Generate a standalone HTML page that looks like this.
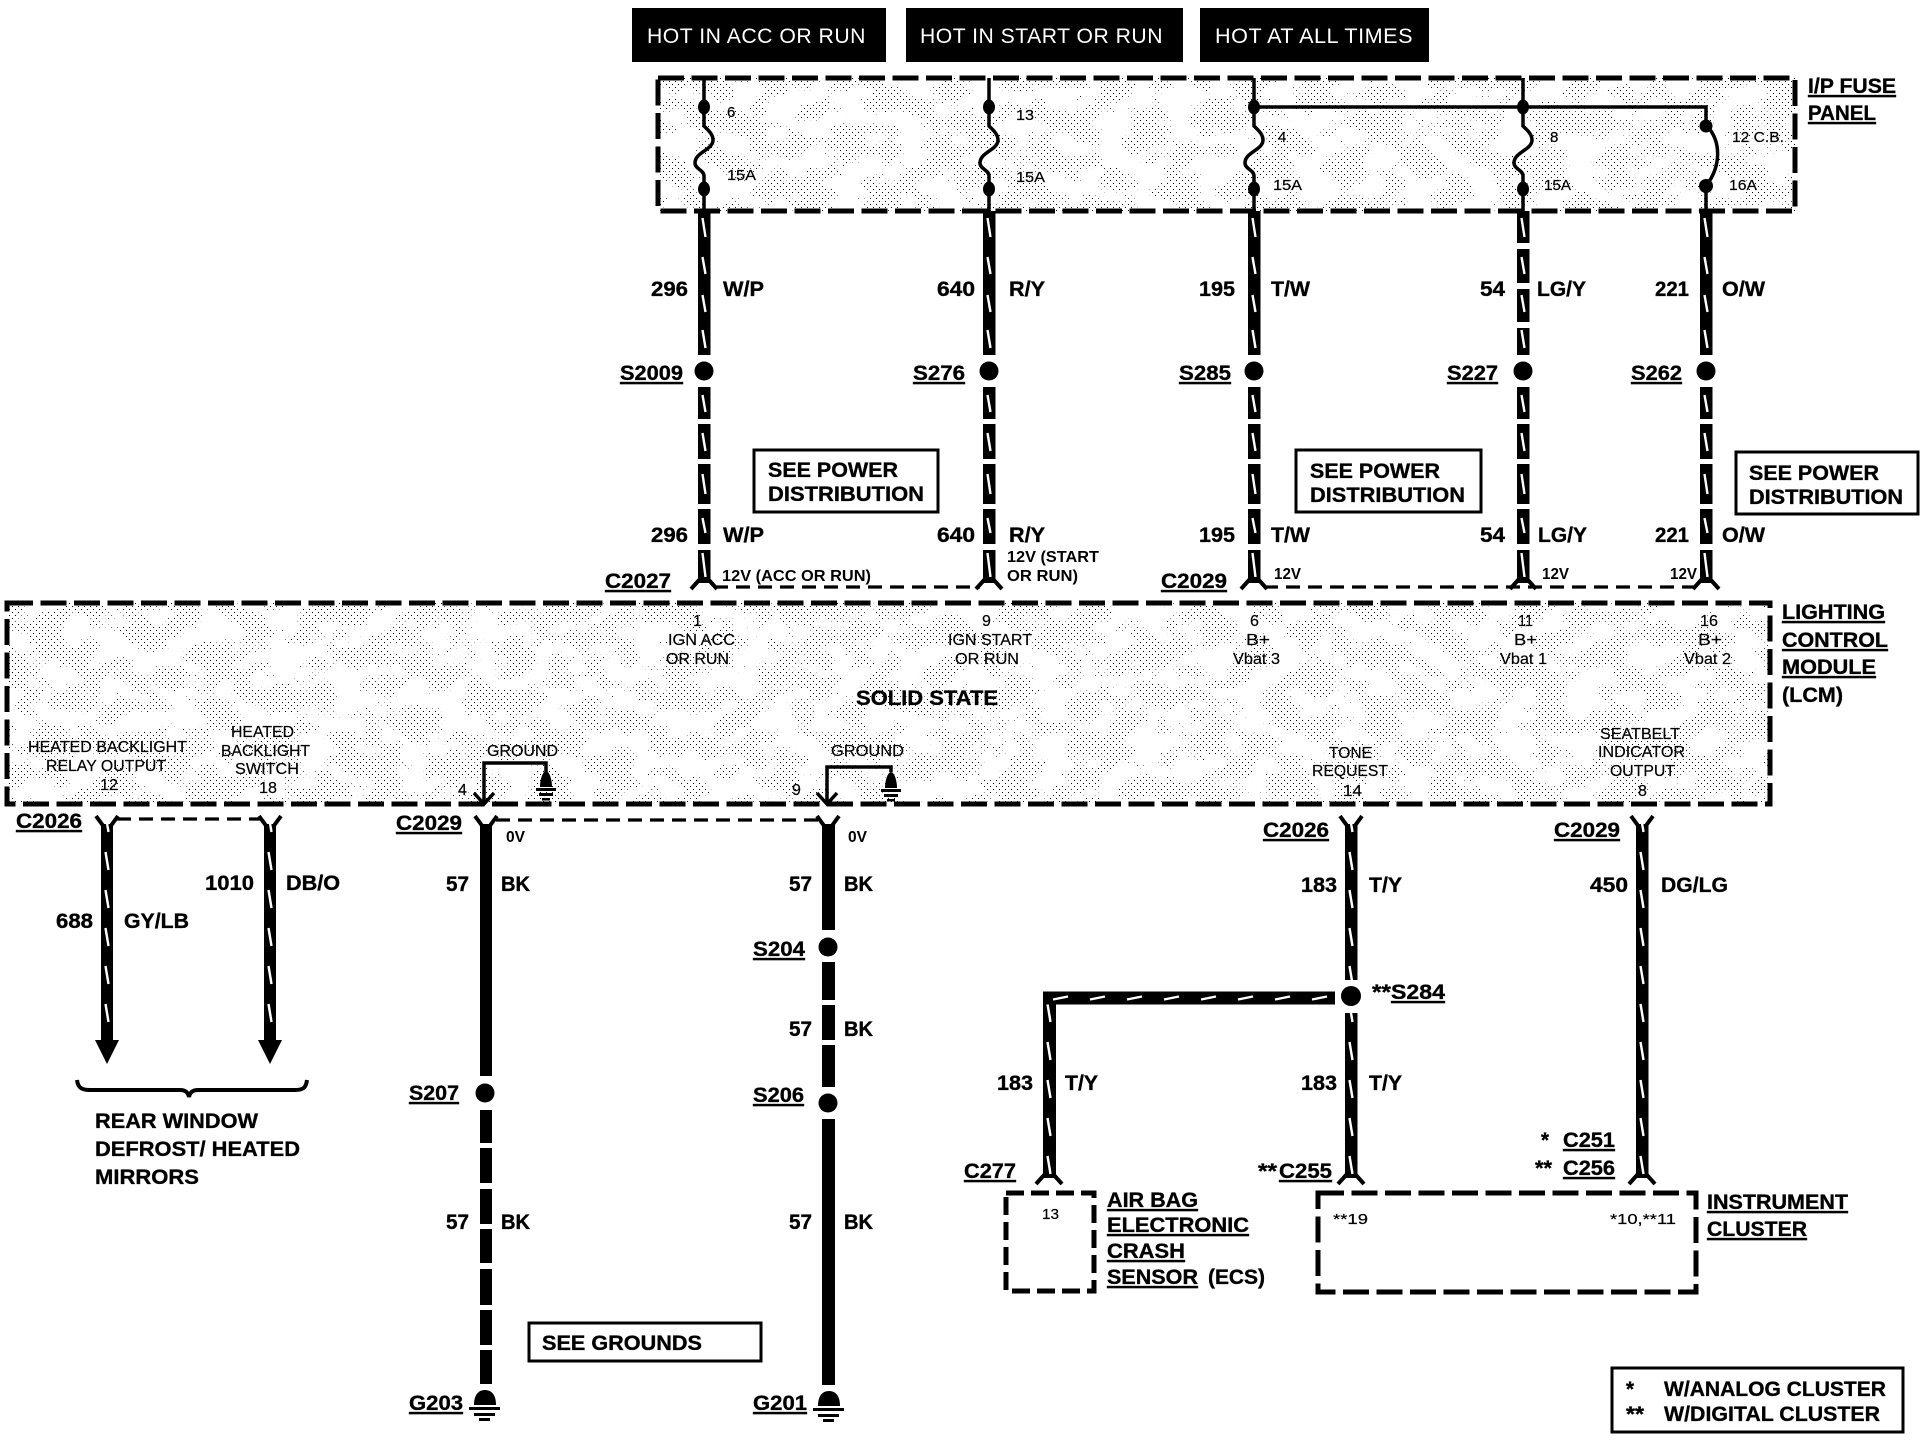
<!DOCTYPE html>
<html><head><meta charset="utf-8"><style>
html,body{margin:0;padding:0;background:#fff}
svg{display:block}
text{font-family:"Liberation Sans",sans-serif;fill:#000}
.b{font-weight:700;font-size:21px;stroke:#000;stroke-width:.35}
.c{font-weight:700;font-size:16px}
.s{font-size:16px;stroke:#000;stroke-width:.2}
.f{font-size:15px;stroke:#000;stroke-width:.2}
.h{font-size:21px;fill:#fff;letter-spacing:.5px}
.u{text-decoration:underline}
.wt{stroke:#fff;stroke-width:2.4;fill:none}
.th{stroke:#000;stroke-width:3.5;fill:none}
.dl{stroke:#000;stroke-width:3.2;fill:none;stroke-dasharray:14 8}
.db{fill:none;stroke:#000;stroke-width:5;stroke-dasharray:26 7.5}
.bx{fill:#fff;stroke:#000;stroke-width:3}
</style></head><body>
<svg xmlns="http://www.w3.org/2000/svg" width="1926" height="1440" viewBox="0 0 1926 1440">
<defs>
<pattern id="dots" patternUnits="userSpaceOnUse" width="6" height="6"><rect width="6" height="6" fill="#fff"/><rect x="0" y="0" width="1" height="1" fill="#000"/><rect x="3" y="3" width="1" height="1" fill="#000"/></pattern>
<filter id="patch" x="0" y="0" width="1" height="1" color-interpolation-filters="sRGB"><feTurbulence type="fractalNoise" baseFrequency=".03 .045" numOctaves="3" seed="7"/><feColorMatrix type="matrix" values="0 0 0 0 1 0 0 0 0 1 0 0 0 0 1 14 0 0 0 -6.6"/></filter>
<pattern id="tv" patternUnits="userSpaceOnUse" x="-10" y="8" width="20" height="38"><rect width="20" height="38" fill="#000"/><line x1="8.5" y1="8" x2="11.5" y2="26" class="wt"/></pattern>
<pattern id="th" patternUnits="userSpaceOnUse" x="0" y="-10" width="37" height="20"><rect width="37" height="20" fill="#000"/><line x1="10" y1="11.5" x2="25" y2="8.5" class="wt"/></pattern>
<g id="col">
<rect x="-6" y="211" width="12.5" height="144" fill="#000"/>
<circle cx="0" cy="371" r="9.5" fill="#000"/>
<rect x="-6" y="387" width="12.5" height="32"/><rect x="-6" y="424" width="12.5" height="35"/><rect x="-6" y="464" width="12.5" height="40"/><rect x="-6" y="509" width="12.5" height="35"/><rect x="-6" y="550" width="12.5" height="33"/>
<path class="wt" d="M-1.5,218L1.5,237M-1.5,257L1.5,274M-1.5,295L1.5,312M-1.5,330L1.5,348M-1.5,395L1.5,412M-1.5,433L1.5,451M-1.5,474L1.5,494M-1.5,518L1.5,533M-1.5,553L1.5,577"/>
<path d="M-13,589L-4,579M13,589L4,579" stroke="#000" stroke-width="4" fill="none"/>
</g>
<g id="fuse">
<path class="th" d="M0,78V126C4,130 9,134 9,140C9,150 -9,152 -9,163C-9,169 0,170 0,176V211"/>
<ellipse cx="0" cy="107" rx="6" ry="7.5"/><ellipse cx="0" cy="189" rx="6" ry="7.5"/>
</g>
<g id="cu"><path d="M-11,816L-3,827M11,816L3,827" stroke="#000" stroke-width="4" fill="none"/></g>
<g id="gb">
<path d="M-11,15C-11,4 -6,0 0,0C6,0 11,4 11,15Z"/>
<rect x="-16" y="17" width="31" height="3"/><rect x="-11" y="23" width="21" height="3"/><rect x="-6" y="28" width="11" height="3"/>
</g>
<g id="gs">
<path d="M-6,16C-6,8 -3,0 0,0C3,0 6,8 6,16Z"/>
<rect x="-10" y="17" width="20" height="3"/><rect x="-7" y="22" width="14" height="3"/><rect x="-4" y="27" width="8" height="2.5"/>
</g>
</defs>
<rect width="1926" height="1440" fill="#fff"/>

<!-- top labels -->
<rect x="632" y="8" width="254" height="54"/><rect x="906" y="8" width="277" height="54"/><rect x="1200" y="8" width="229" height="54"/>
<text class="h" x="647" y="43" textLength="219" lengthAdjust="spacingAndGlyphs">HOT IN ACC OR RUN</text>
<text class="h" x="920" y="43" textLength="243" lengthAdjust="spacingAndGlyphs">HOT IN START OR RUN</text>
<text class="h" x="1215" y="43" textLength="198" lengthAdjust="spacingAndGlyphs">HOT AT ALL TIMES</text>

<!-- fuse panel -->
<rect x="658" y="78" width="1137" height="133" fill="url(#dots)" shape-rendering="crispEdges"/><rect x="658" y="78" width="1137" height="133" filter="url(#patch)"/>
<rect x="658" y="78" width="1137" height="133" class="db"/>
<use href="#fuse" x="704"/><use href="#fuse" x="989"/><use href="#fuse" x="1254"/><use href="#fuse" x="1523"/>
<path class="th" d="M1254,107H1706V125C1721,140 1722,165 1706,186V211"/>
<circle cx="1706" cy="126" r="6.5"/><circle cx="1706" cy="186" r="7"/>
<text class="f" x="727" y="117">6</text><text class="f" x="727" y="180" textLength="29" lengthAdjust="spacingAndGlyphs">15A</text>
<text class="f" x="1016" y="120" textLength="18" lengthAdjust="spacingAndGlyphs">13</text><text class="f" x="1016" y="182" textLength="29" lengthAdjust="spacingAndGlyphs">15A</text>
<text class="f" x="1278" y="142">4</text><text class="f" x="1273" y="190" textLength="29" lengthAdjust="spacingAndGlyphs">15A</text>
<text class="f" x="1550" y="142">8</text><text class="f" x="1544" y="190" textLength="27" lengthAdjust="spacingAndGlyphs">15A</text>
<text class="f" x="1732" y="142" textLength="52" lengthAdjust="spacingAndGlyphs">12 C.B.</text><text class="f" x="1729" y="190" textLength="28" lengthAdjust="spacingAndGlyphs">16A</text>
<text class="b u" x="1808" y="93" textLength="88" lengthAdjust="spacingAndGlyphs">I/P FUSE</text>
<text class="b u" x="1808" y="120" textLength="68" lengthAdjust="spacingAndGlyphs">PANEL</text>

<!-- upper wires -->
<use href="#col" x="704"/><use href="#col" x="989"/><use href="#col" x="1254"/><use href="#col" x="1523"/><use href="#col" x="1706"/>
<rect x="1515" y="243" width="17" height="6" fill="#fff"/><rect x="1515" y="283" width="17" height="6" fill="#fff"/><rect x="1515" y="322" width="17" height="6" fill="#fff"/>
<line class="dl" x1="714" y1="587" x2="980" y2="587"/><line class="dl" x1="1264" y1="587" x2="1698" y2="587"/>

<text class="b" x="651" y="296" textLength="37" lengthAdjust="spacingAndGlyphs">296</text><text class="b" x="723" y="296" textLength="41" lengthAdjust="spacingAndGlyphs">W/P</text>
<text class="b" x="937" y="296" textLength="38" lengthAdjust="spacingAndGlyphs">640</text><text class="b" x="1009" y="296" textLength="36" lengthAdjust="spacingAndGlyphs">R/Y</text>
<text class="b" x="1199" y="296" textLength="36" lengthAdjust="spacingAndGlyphs">195</text><text class="b" x="1271" y="296" textLength="39" lengthAdjust="spacingAndGlyphs">T/W</text>
<text class="b" x="1480" y="296" textLength="25" lengthAdjust="spacingAndGlyphs">54</text><text class="b" x="1537" y="296" textLength="49" lengthAdjust="spacingAndGlyphs">LG/Y</text>
<text class="b" x="1655" y="296" textLength="34" lengthAdjust="spacingAndGlyphs">221</text><text class="b" x="1722" y="296" textLength="43" lengthAdjust="spacingAndGlyphs">O/W</text>
<text class="b" x="651" y="542" textLength="37" lengthAdjust="spacingAndGlyphs">296</text><text class="b" x="723" y="542" textLength="41" lengthAdjust="spacingAndGlyphs">W/P</text>
<text class="b" x="937" y="542" textLength="38" lengthAdjust="spacingAndGlyphs">640</text><text class="b" x="1009" y="542" textLength="36" lengthAdjust="spacingAndGlyphs">R/Y</text>
<text class="b" x="1199" y="542" textLength="36" lengthAdjust="spacingAndGlyphs">195</text><text class="b" x="1271" y="542" textLength="39" lengthAdjust="spacingAndGlyphs">T/W</text>
<text class="b" x="1480" y="542" textLength="25" lengthAdjust="spacingAndGlyphs">54</text><text class="b" x="1538" y="542" textLength="49" lengthAdjust="spacingAndGlyphs">LG/Y</text>
<text class="b" x="1655" y="542" textLength="34" lengthAdjust="spacingAndGlyphs">221</text><text class="b" x="1722" y="542" textLength="43" lengthAdjust="spacingAndGlyphs">O/W</text>
<text class="b u" x="620" y="380" textLength="63" lengthAdjust="spacingAndGlyphs">S2009</text>
<text class="b u" x="913" y="380" textLength="52" lengthAdjust="spacingAndGlyphs">S276</text>
<text class="b u" x="1179" y="380" textLength="52" lengthAdjust="spacingAndGlyphs">S285</text>
<text class="b u" x="1447" y="380" textLength="51" lengthAdjust="spacingAndGlyphs">S227</text>
<text class="b u" x="1631" y="380" textLength="51" lengthAdjust="spacingAndGlyphs">S262</text>

<rect class="bx" x="754" y="450" width="184" height="62"/>
<text class="b" x="768" y="477" textLength="130" lengthAdjust="spacingAndGlyphs">SEE POWER</text><text class="b" x="768" y="501" textLength="156" lengthAdjust="spacingAndGlyphs">DISTRIBUTION</text>
<rect class="bx" x="1296" y="450" width="185" height="62"/>
<text class="b" x="1310" y="478" textLength="130" lengthAdjust="spacingAndGlyphs">SEE POWER</text><text class="b" x="1310" y="502" textLength="155" lengthAdjust="spacingAndGlyphs">DISTRIBUTION</text>
<rect class="bx" x="1736" y="452" width="182" height="62"/>
<text class="b" x="1749" y="480" textLength="130" lengthAdjust="spacingAndGlyphs">SEE POWER</text><text class="b" x="1749" y="504" textLength="154" lengthAdjust="spacingAndGlyphs">DISTRIBUTION</text>

<text class="b u" x="605" y="588" textLength="66" lengthAdjust="spacingAndGlyphs">C2027</text>
<text class="b u" x="1161" y="588" textLength="66" lengthAdjust="spacingAndGlyphs">C2029</text>
<text class="c" x="722" y="581" textLength="149" lengthAdjust="spacingAndGlyphs">12V (ACC OR RUN)</text>
<text class="c" x="1007" y="562" textLength="92" lengthAdjust="spacingAndGlyphs">12V (START</text><text class="c" x="1007" y="581" textLength="71" lengthAdjust="spacingAndGlyphs">OR RUN)</text>
<text class="c" x="1274" y="579" textLength="27" lengthAdjust="spacingAndGlyphs">12V</text><text class="c" x="1542" y="579" textLength="27" lengthAdjust="spacingAndGlyphs">12V</text><text class="c" x="1670" y="579" textLength="27" lengthAdjust="spacingAndGlyphs">12V</text>

<!-- LCM -->
<rect x="7" y="603" width="1763" height="201" fill="url(#dots)" shape-rendering="crispEdges"/><rect x="7" y="603" width="1763" height="201" filter="url(#patch)"/>
<rect x="7" y="603" width="1763" height="201" class="db"/>
<text class="b" x="856" y="705" textLength="142" lengthAdjust="spacingAndGlyphs">SOLID STATE</text>
<text class="s" x="693" y="626">1</text>
<text class="s" x="668" y="645" textLength="67" lengthAdjust="spacingAndGlyphs">IGN ACC</text><text class="s" x="666" y="664" textLength="63" lengthAdjust="spacingAndGlyphs">OR RUN</text>
<text class="s" x="982" y="626">9</text>
<text class="s" x="948" y="645" textLength="84" lengthAdjust="spacingAndGlyphs">IGN START</text><text class="s" x="955" y="664" textLength="64" lengthAdjust="spacingAndGlyphs">OR RUN</text>
<text class="s" x="1250" y="626">6</text><text class="s" x="1246" y="645" textLength="24" lengthAdjust="spacingAndGlyphs">B+</text><text class="s" x="1233" y="664" textLength="47" lengthAdjust="spacingAndGlyphs">Vbat 3</text>
<text class="s" x="1518" y="626" textLength="15" lengthAdjust="spacingAndGlyphs">11</text><text class="s" x="1514" y="645" textLength="23" lengthAdjust="spacingAndGlyphs">B+</text><text class="s" x="1500" y="664" textLength="47" lengthAdjust="spacingAndGlyphs">Vbat 1</text>
<text class="s" x="1700" y="626" textLength="18" lengthAdjust="spacingAndGlyphs">16</text><text class="s" x="1698" y="645" textLength="24" lengthAdjust="spacingAndGlyphs">B+</text><text class="s" x="1684" y="664" textLength="47" lengthAdjust="spacingAndGlyphs">Vbat 2</text>
<text class="s" x="28" y="752" textLength="159" lengthAdjust="spacingAndGlyphs">HEATED BACKLIGHT</text><text class="s" x="46" y="771" textLength="120" lengthAdjust="spacingAndGlyphs">RELAY OUTPUT</text><text class="s" x="100" y="790" textLength="18" lengthAdjust="spacingAndGlyphs">12</text>
<text class="s" x="231" y="737" textLength="63" lengthAdjust="spacingAndGlyphs">HEATED</text><text class="s" x="221" y="756" textLength="89" lengthAdjust="spacingAndGlyphs">BACKLIGHT</text><text class="s" x="235" y="774" textLength="64" lengthAdjust="spacingAndGlyphs">SWITCH</text><text class="s" x="259" y="793" textLength="18" lengthAdjust="spacingAndGlyphs">18</text>
<text class="s" x="487" y="756" textLength="71" lengthAdjust="spacingAndGlyphs">GROUND</text><text class="s" x="831" y="756" textLength="73" lengthAdjust="spacingAndGlyphs">GROUND</text>
<text class="s" x="458" y="795">4</text><text class="s" x="792" y="795">9</text>
<text class="s" x="1329" y="758" textLength="43" lengthAdjust="spacingAndGlyphs">TONE</text><text class="s" x="1312" y="776" textLength="76" lengthAdjust="spacingAndGlyphs">REQUEST</text><text class="s" x="1343" y="796" textLength="19" lengthAdjust="spacingAndGlyphs">14</text>
<text class="s" x="1600" y="739" textLength="80" lengthAdjust="spacingAndGlyphs">SEATBELT</text><text class="s" x="1598" y="757" textLength="87" lengthAdjust="spacingAndGlyphs">INDICATOR</text><text class="s" x="1610" y="776" textLength="65" lengthAdjust="spacingAndGlyphs">OUTPUT</text><text class="s" x="1638" y="796">8</text>
<path class="th" stroke-width="3" d="M484,802V763H546V772M827,802V767H891V772"/>
<path d="M474,793L484,804L494,793M817,793L827,804L837,793" stroke="#000" stroke-width="3.5" fill="none"/>
<use href="#gs" x="546" y="771"/><use href="#gs" x="891" y="772"/>
<text class="b u" x="1782" y="619" textLength="103" lengthAdjust="spacingAndGlyphs">LIGHTING</text>
<text class="b u" x="1782" y="647" textLength="106" lengthAdjust="spacingAndGlyphs">CONTROL</text>
<text class="b u" x="1782" y="674" textLength="94" lengthAdjust="spacingAndGlyphs">MODULE</text>
<text class="b" x="1782" y="702" textLength="61" lengthAdjust="spacingAndGlyphs">(LCM)</text>

<!-- lower left arrows -->
<g transform="translate(107,0)"><rect x="-6" y="824" width="12" height="218" fill="url(#tv)"/><use href="#cu"/><path d="M-12,1040H12L0,1064Z"/></g>
<g transform="translate(270,0)"><rect x="-6" y="824" width="12" height="218" fill="url(#tv)"/><use href="#cu"/><path d="M-12,1040H12L0,1064Z"/></g>
<line class="dl" x1="117" y1="819" x2="260" y2="819"/>
<text class="b u" x="16" y="828" textLength="66" lengthAdjust="spacingAndGlyphs">C2026</text>
<text class="b" x="205" y="890" textLength="49" lengthAdjust="spacingAndGlyphs">1010</text><text class="b" x="286" y="890" textLength="54" lengthAdjust="spacingAndGlyphs">DB/O</text>
<text class="b" x="56" y="928" textLength="37" lengthAdjust="spacingAndGlyphs">688</text><text class="b" x="124" y="928" textLength="65" lengthAdjust="spacingAndGlyphs">GY/LB</text>
<path d="M77,1080C78,1088 82,1090 90,1090H180C185,1090 188,1092 189,1097C190,1092 193,1090 198,1090H295C303,1090 306,1088 307,1080" stroke="#000" stroke-width="4" fill="none"/>
<text class="b" x="95" y="1128" textLength="163" lengthAdjust="spacingAndGlyphs">REAR WINDOW</text>
<text class="b" x="95" y="1156" textLength="205" lengthAdjust="spacingAndGlyphs">DEFROST/ HEATED</text>
<text class="b" x="95" y="1184" textLength="104" lengthAdjust="spacingAndGlyphs">MIRRORS</text>

<!-- ground wires -->
<rect x="480" y="824" width="12" height="252"/>
<use href="#cu" x="486"/>
<circle cx="485" cy="1093" r="9.5"/>
<rect x="480" y="1110" width="12" height="33"/><rect x="480" y="1148" width="12" height="35"/><rect x="480" y="1189" width="12" height="35"/><rect x="480" y="1229" width="12" height="34"/><rect x="480" y="1269" width="12" height="36"/><rect x="480" y="1310" width="12" height="35"/><rect x="480" y="1350" width="12" height="34"/>
<use href="#gb" x="485" y="1390"/>
<rect x="822" y="824" width="13" height="106"/>
<use href="#cu" x="828"/>
<circle cx="828" cy="947" r="9.5"/>
<rect x="822" y="962" width="13" height="38"/><rect x="822" y="1005" width="13" height="35"/><rect x="822" y="1045" width="13" height="42"/>
<circle cx="828" cy="1103" r="9.5"/>
<rect x="822" y="1119" width="13" height="266"/>
<use href="#gb" x="829" y="1391"/>
<line class="dl" x1="496" y1="820" x2="818" y2="820"/>
<text class="b u" x="396" y="830" textLength="66" lengthAdjust="spacingAndGlyphs">C2029</text>
<text class="c" x="506" y="842" textLength="19" lengthAdjust="spacingAndGlyphs">0V</text><text class="c" x="848" y="842" textLength="19" lengthAdjust="spacingAndGlyphs">0V</text>
<text class="b" x="446" y="891" textLength="23" lengthAdjust="spacingAndGlyphs">57</text><text class="b" x="501" y="891" textLength="29" lengthAdjust="spacingAndGlyphs">BK</text>
<text class="b" x="446" y="1229" textLength="23" lengthAdjust="spacingAndGlyphs">57</text><text class="b" x="501" y="1229" textLength="29" lengthAdjust="spacingAndGlyphs">BK</text>
<text class="b" x="789" y="891" textLength="23" lengthAdjust="spacingAndGlyphs">57</text><text class="b" x="844" y="891" textLength="29" lengthAdjust="spacingAndGlyphs">BK</text>
<text class="b" x="789" y="1036" textLength="23" lengthAdjust="spacingAndGlyphs">57</text><text class="b" x="844" y="1036" textLength="29" lengthAdjust="spacingAndGlyphs">BK</text>
<text class="b" x="789" y="1229" textLength="23" lengthAdjust="spacingAndGlyphs">57</text><text class="b" x="844" y="1229" textLength="29" lengthAdjust="spacingAndGlyphs">BK</text>
<text class="b u" x="409" y="1100" textLength="50" lengthAdjust="spacingAndGlyphs">S207</text>
<text class="b u" x="753" y="956" textLength="52" lengthAdjust="spacingAndGlyphs">S204</text>
<text class="b u" x="753" y="1102" textLength="51" lengthAdjust="spacingAndGlyphs">S206</text>
<text class="b u" x="409" y="1410" textLength="54" lengthAdjust="spacingAndGlyphs">G203</text>
<text class="b u" x="753" y="1410" textLength="54" lengthAdjust="spacingAndGlyphs">G201</text>
<rect class="bx" x="529" y="1323" width="232" height="38"/>
<text class="b" x="542" y="1350" textLength="160" lengthAdjust="spacingAndGlyphs">SEE GROUNDS</text>

<!-- right wires -->
<g transform="translate(1351,0)"><rect x="-6" y="824" width="12.5" height="156" fill="url(#tv)"/><use href="#cu"/><circle cx="0" cy="996" r="10"/><rect x="-6" y="1013" width="12.5" height="165" fill="url(#tv)"/><path d="M-13,1184L-4,1174M13,1184L4,1174" stroke="#000" stroke-width="4" fill="none"/></g>
<g transform="translate(1049,0)"><rect x="-6" y="992" width="13" height="186" fill="url(#tv)"/><path d="M-13,1184L-4,1174M13,1184L4,1174" stroke="#000" stroke-width="4" fill="none"/></g>
<g transform="translate(1043,998)"><rect x="0" y="-6.5" width="292" height="13" fill="url(#th)"/></g>
<g transform="translate(1642,0)"><rect x="-6" y="824" width="12.5" height="354" fill="url(#tv)"/><use href="#cu"/><path d="M-13,1184L-4,1174M13,1184L4,1174" stroke="#000" stroke-width="4" fill="none"/></g>
<text class="b u" x="1263" y="837" textLength="66" lengthAdjust="spacingAndGlyphs">C2026</text>
<text class="b u" x="1554" y="837" textLength="66" lengthAdjust="spacingAndGlyphs">C2029</text>
<text class="b" x="1301" y="892" textLength="36" lengthAdjust="spacingAndGlyphs">183</text><text class="b" x="1369" y="892" textLength="33" lengthAdjust="spacingAndGlyphs">T/Y</text>
<text class="b" x="1590" y="892" textLength="38" lengthAdjust="spacingAndGlyphs">450</text><text class="b" x="1661" y="892" textLength="67" lengthAdjust="spacingAndGlyphs">DG/LG</text>
<text class="b" x="1372" y="999" textLength="19" lengthAdjust="spacingAndGlyphs">**</text><text class="b u" x="1391" y="999" textLength="54" lengthAdjust="spacingAndGlyphs">S284</text>
<text class="b" x="1301" y="1090" textLength="36" lengthAdjust="spacingAndGlyphs">183</text><text class="b" x="1369" y="1090" textLength="33" lengthAdjust="spacingAndGlyphs">T/Y</text>
<text class="b" x="997" y="1090" textLength="36" lengthAdjust="spacingAndGlyphs">183</text><text class="b" x="1065" y="1090" textLength="33" lengthAdjust="spacingAndGlyphs">T/Y</text>
<text class="b u" x="964" y="1178" textLength="52" lengthAdjust="spacingAndGlyphs">C277</text>
<text class="b" x="1258" y="1178" textLength="19" lengthAdjust="spacingAndGlyphs">**</text><text class="b u" x="1279" y="1178" textLength="53" lengthAdjust="spacingAndGlyphs">C255</text>
<text class="b" x="1541" y="1147" textLength="8" lengthAdjust="spacingAndGlyphs">*</text><text class="b u" x="1563" y="1147" textLength="52" lengthAdjust="spacingAndGlyphs">C251</text>
<text class="b" x="1535" y="1175" textLength="17" lengthAdjust="spacingAndGlyphs">**</text><text class="b u" x="1563" y="1175" textLength="52" lengthAdjust="spacingAndGlyphs">C256</text>

<!-- bottom boxes -->
<rect x="1006" y="1193" width="88" height="98" class="db" style="stroke-dasharray:18 7"/>
<rect x="1318" y="1193" width="378" height="99" class="db"/>
<text class="f" x="1042" y="1219" textLength="17" lengthAdjust="spacingAndGlyphs">13</text>
<text class="f" x="1333" y="1224" textLength="35" lengthAdjust="spacingAndGlyphs">**19</text>
<text class="f" x="1610" y="1224" textLength="66" lengthAdjust="spacingAndGlyphs">*10,**11</text>
<text class="b u" x="1107" y="1207" textLength="91" lengthAdjust="spacingAndGlyphs">AIR BAG</text>
<text class="b u" x="1107" y="1232" textLength="142" lengthAdjust="spacingAndGlyphs">ELECTRONIC</text>
<text class="b u" x="1107" y="1258" textLength="78" lengthAdjust="spacingAndGlyphs">CRASH</text>
<text class="b u" x="1107" y="1284" textLength="91" lengthAdjust="spacingAndGlyphs">SENSOR</text><text class="b" x="1208" y="1284" textLength="57" lengthAdjust="spacingAndGlyphs">(ECS)</text>
<text class="b u" x="1707" y="1209" textLength="141" lengthAdjust="spacingAndGlyphs">INSTRUMENT</text>
<text class="b u" x="1707" y="1236" textLength="100" lengthAdjust="spacingAndGlyphs">CLUSTER</text>

<rect class="bx" x="1612" y="1368" width="291" height="64"/>
<text class="b" x="1626" y="1396" textLength="8" lengthAdjust="spacingAndGlyphs">*</text>
<text class="b" x="1664" y="1396" textLength="222" lengthAdjust="spacingAndGlyphs">W/ANALOG CLUSTER</text>
<text class="b" x="1626" y="1421" textLength="18" lengthAdjust="spacingAndGlyphs">**</text>
<text class="b" x="1664" y="1421" textLength="216" lengthAdjust="spacingAndGlyphs">W/DIGITAL CLUSTER</text>
</svg>
</body></html>
